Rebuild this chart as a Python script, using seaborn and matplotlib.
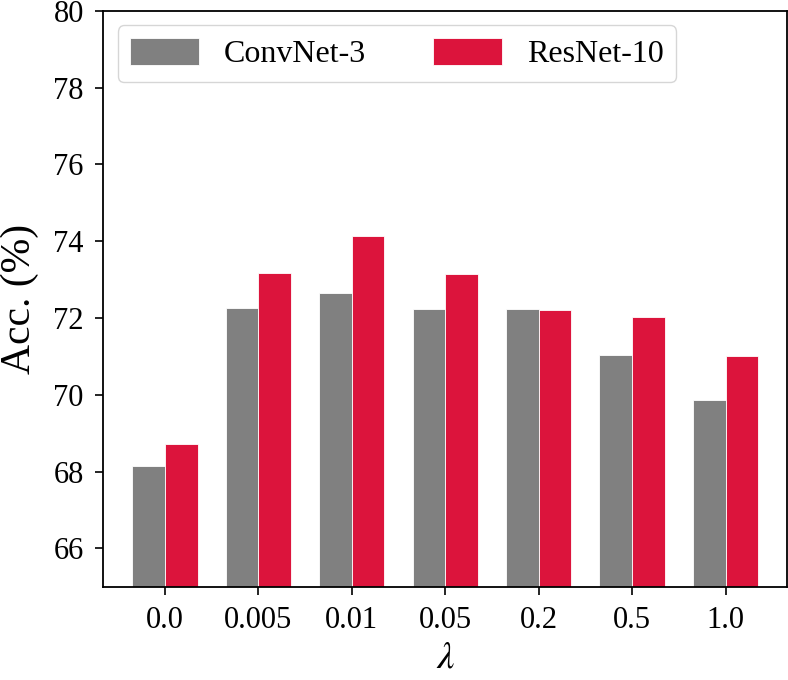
import matplotlib
matplotlib.use('Agg')
import matplotlib.pyplot as plt
import pandas as pd
import seaborn as sns

lambdas = ['0.0', '0.005', '0.01', '0.05', '0.2', '0.5', '1.0']
convnet3 = [68.15, 72.26, 72.65, 72.24, 72.24, 71.03, 69.87]
resnet10 = [68.72, 73.18, 74.15, 73.16, 72.21, 72.04, 71.00]
models = ['ConvNet-3', 'ResNet-10']

df = pd.DataFrame({
    'lam': lambdas * 2,
    'acc': convnet3 + resnet10,
    'model': [models[0]] * len(lambdas) + [models[1]] * len(lambdas),
})

sns.set_style('ticks')
plt.rcParams['font.family'] = ['Liberation Serif', 'DejaVu Serif']
plt.rcParams['mathtext.fontset'] = 'stix'
plt.rcParams['text.color'] = 'black'
plt.rcParams['axes.labelcolor'] = 'black'
plt.rcParams['xtick.color'] = 'black'
plt.rcParams['ytick.color'] = 'black'

fig = plt.figure(figsize=(7.88, 6.8), dpi=100)
ax = fig.add_axes([0.131, 0.137, 0.868, 0.847])
sns.barplot(data=df, x='lam', y='acc', hue='model', order=lambdas, hue_order=models,
            palette=['#808080', '#DC143C'], saturation=1, width=0.7,
            edgecolor='white', linewidth=0.6, ax=ax)

ax.set_ylim(65, 80)
ax.set_yticks(range(66, 81, 2))
ax.set_xlim(-0.66, 6.66)
ax.set_xlabel(r'$\lambda$', fontsize=28, labelpad=3)
ax.set_ylabel('Acc. (%)', fontsize=30, labelpad=10)
ax.tick_params(axis='both', labelsize=22, length=6, width=1.2, color='black', pad=8)
for s in ax.spines.values():
    s.set_linewidth(1.3)
    s.set_color('black')

ax.legend(loc='upper left', ncol=2, fontsize=23, handlelength=2.15, handleheight=0.9,
          handletextpad=0.78, columnspacing=2.1, borderaxespad=0.45, frameon=True,
          fancybox=True, edgecolor='#cccccc', framealpha=0.8, title=None)

fig.savefig('out.png', dpi=100)
